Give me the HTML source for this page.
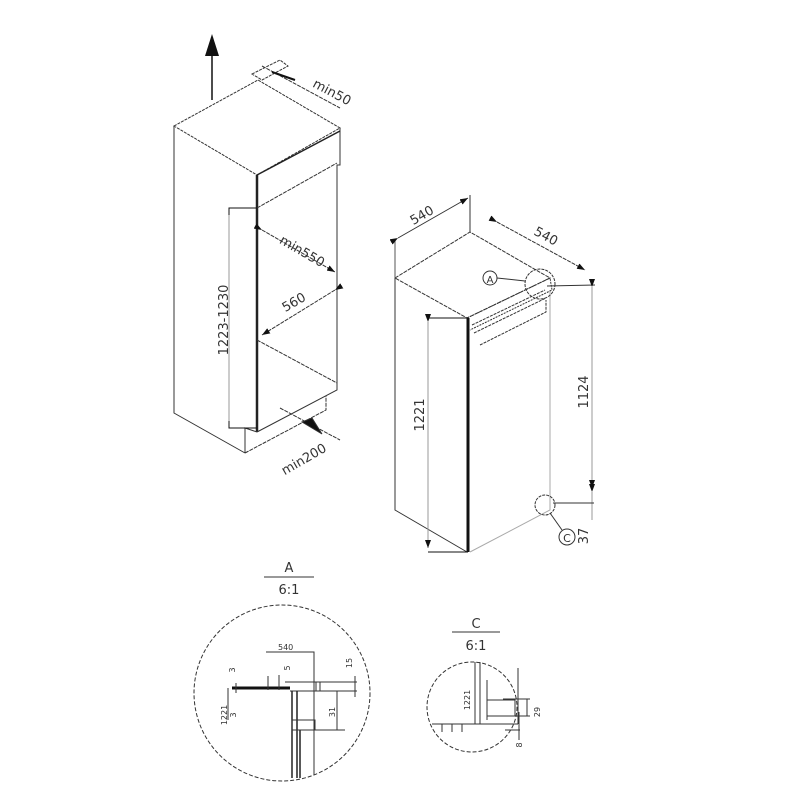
<!DOCTYPE html>
<html><head><style>body{margin:0;background:#fff}svg{display:block}text{font-family:"DejaVu Sans","Liberation Sans",sans-serif;fill:#333}</style></head>
<body>
<svg width="800" height="800" viewBox="0 0 800 800" xmlns="http://www.w3.org/2000/svg">
<defs>
<marker id="ar" markerWidth="8" markerHeight="6" refX="8" refY="3" orient="auto" markerUnits="userSpaceOnUse"><path d="M0,0L8,3L0,6z" fill="#111"/></marker>
<clipPath id="cc"><rect x="400" y="600" width="118" height="160"/></clipPath>
</defs>
<g stroke="#333" fill="none" stroke-width="1">
<!-- cabinet -->
<line x1="212" y1="100" x2="212" y2="52" stroke="#111" stroke-width="1.5"/>
<path d="M205,56L212,34L219,56z" fill="#111" stroke="none"/>
<path d="M174,126L258,80L340,128L257,175Z" stroke-dasharray="3,1"/>
<path d="M174,126L174,413L245,453"/>
<line x1="257" y1="175" x2="257" y2="432" stroke="#222" stroke-width="2.5"/>
<path d="M340,128L340,165L337,165L337,385"/>
<line x1="257" y1="175" x2="340" y2="131" stroke="#222" stroke-width="1.5"/>
<path d="M257,208L337,163" stroke-dasharray="4,1"/>
<path d="M257,340L337,383" stroke-dasharray="4,1"/>
<path d="M257,432L337,390L337,383"/>
<path d="M245,453L245,428L257,432"/>
<path d="M245,453L326,410L326,396" stroke-dasharray="4,1"/>
<path d="M257,208L229,208L229,428L257,428" stroke="#111"/>
<line x1="229" y1="215" x2="229" y2="421" stroke="#999"/>
<path d="M262,230L335,272" marker-start="url(#ar)" marker-end="url(#ar)" stroke-dasharray="4,1"/>
<path d="M335,290L262,335" marker-start="url(#ar)" marker-end="url(#ar)" stroke-dasharray="4,1"/>
<path d="M280,408L340,440" stroke-dasharray="4,1"/>
<path d="M302,422L322,434L312,418z" fill="#111"/>
<path d="M262,66L340,108" stroke-dasharray="4,1"/>
<path d="M272,72L295,80" stroke="#111" stroke-width="2"/>
<path d="M252,74L280,60L288,66L262,80Z" stroke-dasharray="3,1"/>
<!-- fridge -->
<path d="M395,278L470,232L550,278L467,318Z" stroke-dasharray="4,1"/>
<path d="M395,278L395,510L467,552"/>
<line x1="468" y1="318" x2="468" y2="552" stroke="#111" stroke-width="3"/>
<path d="M470,552L550,510L550,290" stroke="#aaa"/>
<path d="M467,318L550,278L552,290L470,330" stroke-dasharray="2,1"/>
<path d="M472,325L545,290M474,333L546,298M480,345L546,312L546,300" stroke-dasharray="3,1"/>
<line x1="395" y1="278" x2="395" y2="240" stroke="#555"/>
<line x1="470" y1="232" x2="470" y2="195"/>
<path d="M398,238L468,198" marker-start="url(#ar)" marker-end="url(#ar)"/>
<path d="M497,222L585,270" marker-start="url(#ar)" marker-end="url(#ar)" stroke-dasharray="4,1"/>
<path d="M547,286L595,285"/>
<path d="M428,318L468,318M428,552L468,552" stroke="#111"/>
<line x1="428" y1="322" x2="428" y2="548" stroke="#999" marker-start="url(#ar)" marker-end="url(#ar)"/>
<line x1="592" y1="287" x2="592" y2="488" stroke="#999" marker-start="url(#ar)" marker-end="url(#ar)"/>
<line x1="592" y1="492" x2="592" y2="520" stroke="#999" marker-start="url(#ar)"/>
<path d="M553,503L594,503"/>
<circle cx="545" cy="505" r="10" stroke-dasharray="3,1"/>
<circle cx="540" cy="284" r="15" stroke-dasharray="3,1"/>
<circle cx="490" cy="278" r="7"/>
<path d="M497,278L525,281"/>
<circle cx="567" cy="537" r="8"/>
<path d="M550,513L562,530"/>
<!-- detail A -->
<line x1="264" y1="577" x2="314" y2="577"/>
<circle cx="282" cy="693" r="88" stroke-dasharray="4,2"/>
<path d="M266,652L314,652L314,775"/>
<line x1="232" y1="688" x2="290" y2="688" stroke="#111" stroke-width="3"/>
<path d="M285,682L357,682M290,691L357,691M316,682L316,691M320,682L320,691"/>
<path d="M292,691L292,778M297,691L297,778M300,730L300,778" stroke="#222" stroke-width="1.5"/>
<rect x="292" y="720" width="23" height="10"/>
<path d="M315,730L345,730"/>
<path d="M337,691L337,730M355,676L355,697M268,676L268,690M279,675L279,690M236,683L236,693M228,688L228,720"/>
<!-- detail C -->
<line x1="452" y1="632" x2="500" y2="632"/>
<circle cx="472" cy="707" r="45" stroke-dasharray="4,2" clip-path="url(#cc)"/>
<path d="M432,724L518,724M475,662L475,724M480,662L480,724M487,680L487,720M487,700L515,700L515,716L487,716M518,668L518,724"/>
<path d="M503,699L530,699M503,716L530,716M527,699L527,716M519,712L519,740M505,730L520,730"/>
<path d="M442,724L442,732M452,724L452,732M462,724L462,732"/>
</g>
<g font-size="13">
<text transform="translate(228,320) rotate(-90)" text-anchor="middle">1223-1230</text>
<text transform="translate(300,255) rotate(30)" text-anchor="middle">min550</text>
<text transform="translate(296,306) rotate(-30)" text-anchor="middle">560</text>
<text transform="translate(306,463) rotate(-30)" text-anchor="middle">min200</text>
<text transform="translate(330,96) rotate(28)" text-anchor="middle">min50</text>
<text transform="translate(424,219) rotate(-30)" text-anchor="middle">540</text>
<text transform="translate(544,240) rotate(28)" text-anchor="middle">540</text>
<text transform="translate(424,415) rotate(-90)" text-anchor="middle">1221</text>
<text transform="translate(588,392) rotate(-90)" text-anchor="middle">1124</text>
<text transform="translate(588,536) rotate(-90)" text-anchor="middle">37</text>
<text x="490" y="283" font-size="10" text-anchor="middle">A</text>
<text x="567" y="542" font-size="11" text-anchor="middle">C</text>
<text x="289" y="572" text-anchor="middle">A</text>
<text x="289" y="594" text-anchor="middle">6:1</text>
<text x="476" y="628" text-anchor="middle">C</text>
<text x="476" y="650" text-anchor="middle">6:1</text>
</g>
<g font-size="8">
<text x="278" y="650">540</text>
<text transform="translate(227,715) rotate(-90)" text-anchor="middle">1221</text>
<text transform="translate(235,670) rotate(-90)" text-anchor="middle">3</text>
<text transform="translate(236,715) rotate(-90)" text-anchor="middle">3</text>
<text transform="translate(290,668) rotate(-90)" text-anchor="middle">5</text>
<text transform="translate(352,663) rotate(-90)" text-anchor="middle">15</text>
<text transform="translate(335,712) rotate(-90)" text-anchor="middle">31</text>
<text transform="translate(470,700) rotate(-90)" text-anchor="middle">1221</text>
<text transform="translate(540,712) rotate(-90)" text-anchor="middle">29</text>
<text transform="translate(522,745) rotate(-90)" text-anchor="middle">8</text>
</g>
</svg>
</body></html>
